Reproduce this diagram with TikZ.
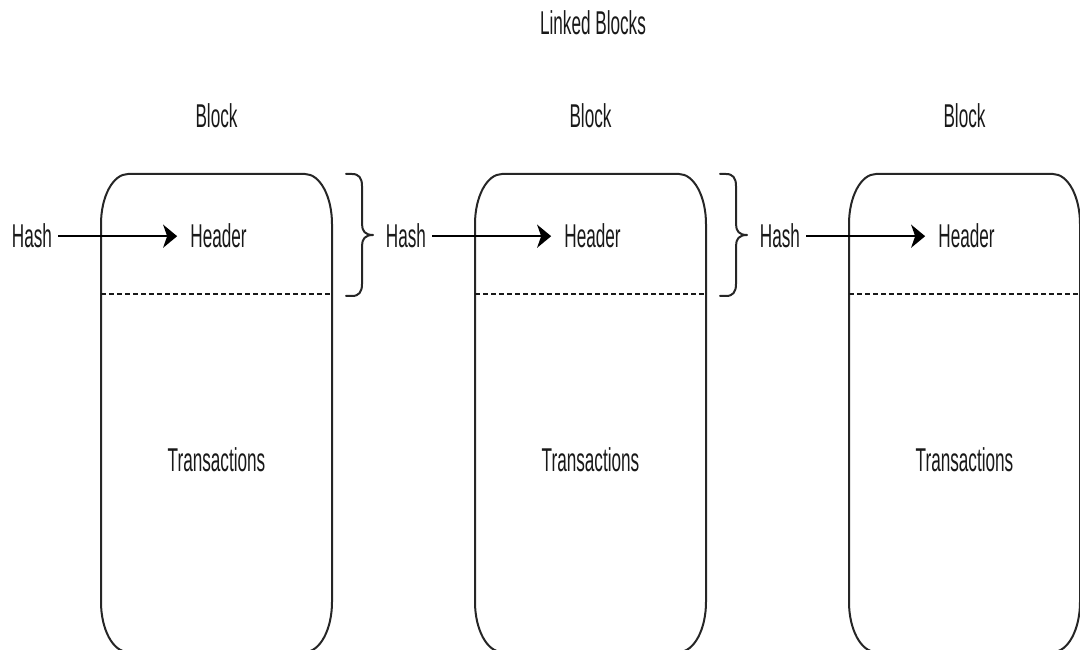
\documentclass[tikz,border=0pt]{standalone}
\usepackage{fontspec}
\setmainfont{Liberation Sans}[FakeStretch=0.52]
\usetikzlibrary{arrows.meta}

\begin{document}
\begin{tikzpicture}[x=1pt,y=1pt,
  lbl/.style={font=\fontsize{33}{36}\selectfont, text=black!90, inner sep=0pt, anchor=base},
  link/.style={line width=2.6pt, -{Stealth[length=14pt,width=23pt,inset=4pt]},
               shorten <=6pt, shorten >=13pt},
  outline/.style={line width=2pt, black!85},
  divider/.style={line width=2.2pt, black!90, dash pattern=on 5pt off 3pt},
  bracket/.style={line width=2pt, black!85, line join=round, line cap=round}]
\useasboundingbox (0,0) rectangle (1080,650);
\clip (0,0) rectangle (1080,650);

\node[lbl] (title) at (593,615) {Linked Blocks};

% three blocks, each with a header section above a dashed divider
\foreach \i in {0,1,2} {
  \pgfmathsetmacro\L{101+374*\i}
  \pgfmathsetmacro\R{\L+231}
  \pgfmathsetmacro\C{(\L+\R)/2}
  \pgfmathsetmacro\H{32+374*\i}
  \draw[outline] (\L,48) -- (\L,426)
     arc[start angle=180, end angle=90, x radius=27, y radius=50]
     -- (\R-27,476)
     arc[start angle=90, end angle=0, x radius=27, y radius=50]
     -- (\R,48)
     arc[start angle=0, end angle=-90, x radius=27, y radius=50]
     -- (\L+27,-2)
     arc[start angle=270, end angle=180, x radius=27, y radius=50]
     -- cycle;
  \draw[divider] (\L,356) -- (\R,356);
  \node[lbl] (blk\i) at (\C,522) {Block};
  \node[lbl] (head\i) at (\C+2,402) {Header};
  \node[lbl] (tx\i) at (\C,178) {Transactions};
  \node[lbl] (hash\i) at (\H,402) {Hash};
  \draw[link] (hash\i.east) -- (head\i.west);
}

% braces grouping each header into the next block's hash
\foreach \i in {0,1} {
  \begin{scope}[xshift=374*\i]
    \draw[bracket] (346,476) -- (352,476)
      .. controls (359,476) and (362,472) .. (362,464) -- (362,426)
      .. controls (362,419) and (365,415) .. (373,415)
      .. controls (365,415) and (362,411) .. (362,404) -- (362,366)
      .. controls (362,358) and (359,354) .. (352,354) -- (346,354);
  \end{scope}
}
\end{tikzpicture}
\end{document}
